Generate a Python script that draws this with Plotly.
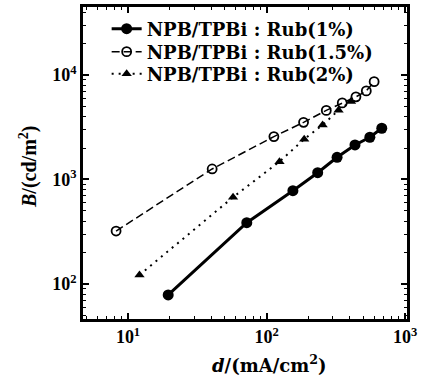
import plotly.graph_objects as go

# Series data
s1_name = "NPB/TPBi : Rub(1%)"
s1_x = [19.5, 72, 155, 234, 323, 435, 557, 679]
s1_y = [78.6, 386, 781, 1161, 1630, 2138, 2535, 3090]

s2_name = "NPB/TPBi : Rub(1.5%)"
s2_x = [8.2, 40.5, 113, 185, 270, 352, 442, 525, 598]
s2_y = [321, 1260, 2570, 3520, 4580, 5400, 6170, 7030, 8630]

s3_name = "NPB/TPBi : Rub(2%)"
s3_x = [12.1, 57.3, 124, 187, 254, 331, 407]
s3_y = [122, 676, 1480, 2430, 3320, 4600, 5560]

x_tickvals = [10, 100, 1000]
x_ticktext = ["10<sup>1</sup>", "10<sup>2</sup>", "10<sup>3</sup>"]
y_tickvals = [100, 1000, 10000]
y_ticktext = ["10<sup>2</sup>", "10<sup>3</sup>", "10<sup>4</sup>"]

x_title = "<b><i>d</i>/(mA/cm<sup>2</sup>)</b>"
y_title = "<b><i>B</i>/(cd/m<sup>2</sup>)</b>"

serif = "Liberation Serif, Times New Roman, serif"
wide_serif = "DejaVu Serif, serif"

fig = go.Figure()
fig.add_trace(go.Scatter(
    x=s1_x, y=s1_y, name=s1_name, mode="lines+markers", legend="legend",
    line=dict(color="black", width=3),
    marker=dict(symbol="circle", size=11, color="black"),
))
fig.add_trace(go.Scatter(
    x=s2_x, y=s2_y, name=s2_name, mode="lines+markers", legend="legend2",
    line=dict(color="black", width=1.5, dash="8px,4px"),
    marker=dict(symbol="circle-open", size=9, color="black", line=dict(width=1.8)),
))
fig.add_trace(go.Scatter(
    x=s3_x, y=s3_y, name=s3_name, mode="lines+markers", legend="legend3",
    line=dict(color="black", width=2, dash="2px,5px"),
    marker=dict(symbol="triangle-up", size=9, color="black"),
))

axis_common = dict(
    type="log", showgrid=False, zeroline=False, automargin=False,
    showline=True, linecolor="black", linewidth=2.5, mirror="allticks",
    ticks="inside", ticklen=6, tickwidth=2, tickcolor="black",
    minor=dict(ticks="inside", ticklen=3, tickwidth=1.2, tickcolor="black", dtick="D1"),
    tickfont=dict(family=serif, size=18, color="black", weight="bold"),
)

fig.update_xaxes(**axis_common, range=[0.675, 3.014],
                 tickvals=x_tickvals, ticktext=x_ticktext)
fig.update_yaxes(**axis_common, range=[1.665, 4.65],
                 tickvals=y_tickvals, ticktext=y_ticktext)

leg_common = dict(
    x=0.073, xanchor="left", yanchor="middle",
    bgcolor="rgba(0,0,0,0)", borderwidth=0,
    font=dict(family=wide_serif, size=18, color="black", weight="bold"),
    itemwidth=30,
)

fig.update_layout(
    width=422, height=376,
    margin=dict(l=83, r=15, t=7, b=57, autoexpand=False),
    paper_bgcolor="white", plot_bgcolor="white",
    showlegend=True,
    legend=dict(**leg_common, y=0.9295),
    legend2=dict(**leg_common, y=0.856),
    legend3=dict(**leg_common, y=0.785),
    annotations=[
        dict(text=x_title, xref="paper", yref="paper", x=0.575, y=-0.143,
             xanchor="center", yanchor="middle", showarrow=False,
             font=dict(family=wide_serif, size=18, color="black")),
        dict(text=y_title, xref="paper", yref="paper", x=-0.17, y=0.487,
             xanchor="center", yanchor="middle", showarrow=False, textangle=-90,
             font=dict(family=serif, size=20, color="black")),
    ],
)

fig.write_html("out.html", post_script="document.body.style.margin='0';",
               config={"displayModeBar": False})
